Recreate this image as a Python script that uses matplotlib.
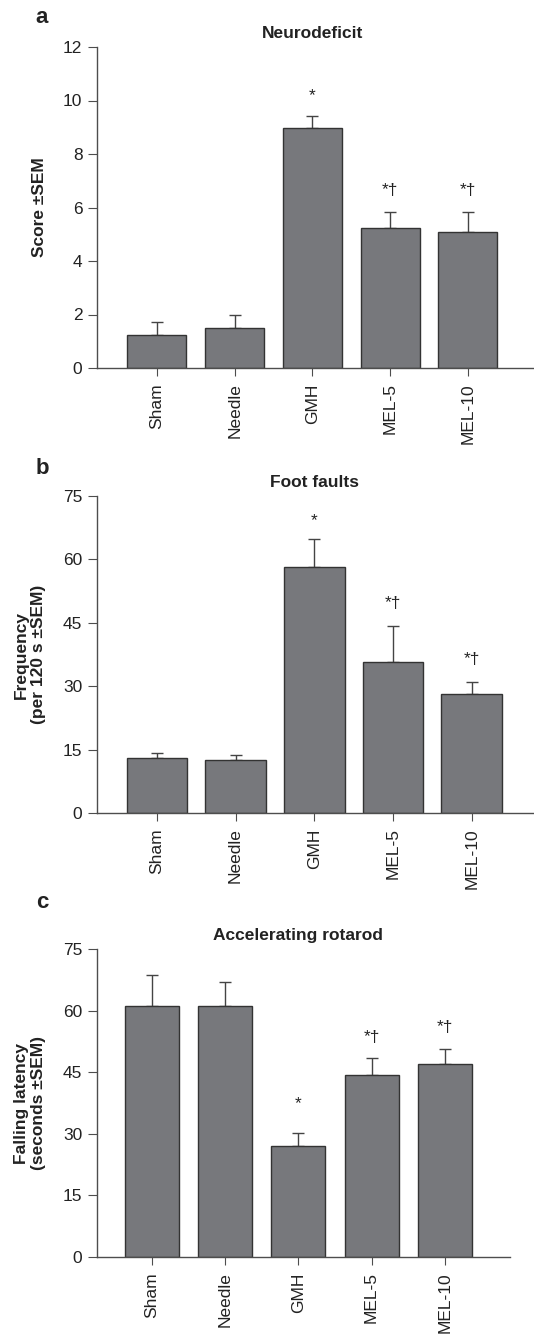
import matplotlib
matplotlib.use('Agg')
import matplotlib.pyplot as plt

plt.rcParams['font.family'] = ['Liberation Sans', 'DejaVu Sans']

#######################################################################
# Data
#######################################################################
groups = ['Sham', 'Needle', 'GMH', 'MEL-5', 'MEL-10']

neuro_mean = [1.23, 1.5, 8.97, 5.24, 5.08]
neuro_sem = [0.48, 0.49, 0.46, 0.60, 0.75]
neuro_marks = ['', '', '*', '*†', '*†']
neuro_mark_y = [0, 0, 10.0, 6.45, 6.45]

foot_mean = [12.9, 12.5, 58.1, 35.7, 28.1]
foot_sem = [1.3, 1.3, 6.7, 8.5, 3.0]
foot_marks = ['', '', '*', '*†', '*†']
foot_mark_y = [0, 0, 68.2, 48.5, 35.2]

rota_mean = [61.1, 61.1, 27.1, 44.3, 47.1]
rota_sem = [7.6, 5.9, 3.0, 4.1, 3.5]
rota_marks = ['', '', '*', '*†', '*†']
rota_mark_y = [0, 0, 36.3, 52.3, 54.8]

#######################################################################
# Style
#######################################################################
BAR_COLOR = '#77787c'
EDGE_COLOR = '#333333'
AXIS_COLOR = '#4d4d4d'
TEXT_COLOR = '#222222'
W, H = 534, 1334

fig = plt.figure(figsize=(W / 100, H / 100), dpi=100)


def px_axes(left, top, right, bottom):
    """ axes from pixel box """
    return fig.add_axes([left / W, 1 - bottom / H, (right - left) / W, (bottom - top) / H])


def draw_panel(ax, means, sems, marks, mark_y, ymax, yticks, xlim, width,
               title, ylabel, label_x, letter, letter_y):
    x = list(range(len(groups)))
    ax.bar(x, means, width=width, color=BAR_COLOR, edgecolor=EDGE_COLOR,
           linewidth=1.0, zorder=2)
    ax.errorbar(x, means, yerr=[[0] * len(sems), sems], fmt='none',
                ecolor='#444444', elinewidth=1.0, capsize=4, capthick=1.0, zorder=1)
    for xi, m, yy in zip(x, marks, mark_y):
        if m:
            ax.text(xi, yy, m, ha='center', va='baseline', fontsize=12.5, color=TEXT_COLOR)
    ax.set_ylim(0, ymax)
    ax.set_xlim(*xlim)
    ax.set_yticks(yticks)
    ax.set_xticks(x)
    ax.set_xticklabels(groups, rotation=90, fontsize=12.5, color=TEXT_COLOR)
    ax.tick_params(axis='y', labelsize=12.5, length=6.5, width=0.8, pad=4,
                   color=AXIS_COLOR, labelcolor=TEXT_COLOR)
    ax.tick_params(axis='x', length=5.5, width=0.8, pad=5.5, color=AXIS_COLOR)
    for s in ['top', 'right']:
        ax.spines[s].set_visible(False)
    for s in ['left', 'bottom']:
        ax.spines[s].set_color(AXIS_COLOR)
        ax.spines[s].set_linewidth(1.0)
    ax.spines['bottom'].set_zorder(3)
    # title centered over the bars
    ax.annotate(title, xy=(2, 1.0), xycoords=('data', 'axes fraction'),
                xytext=(0, 4), textcoords='offset points', ha='center', va='bottom',
                fontsize=12.5, fontweight='bold', color=TEXT_COLOR)
    # y label
    bb = ax.get_position()
    fig.text(label_x / W, (bb.y0 + bb.y1) / 2, ylabel, rotation=90, ha='center',
             va='center', fontsize=12.5, fontweight='bold', multialignment='center',
             color=TEXT_COLOR, linespacing=1.15)
    fig.text(42 / W, 1 - letter_y / H, letter, ha='center', va='baseline',
             fontsize=16, fontweight='bold', color=TEXT_COLOR)


ax_a = px_axes(97, 47, 534, 368)
draw_panel(ax_a, neuro_mean, neuro_sem, neuro_marks, neuro_mark_y, 12,
           [0, 2, 4, 6, 8, 10, 12], (-0.77, 4.85), 0.76,
           'Neurodeficit', 'Score ±SEM', 39, 'a', 23)

ax_b = px_axes(97, 496, 534, 813)
draw_panel(ax_b, foot_mean, foot_sem, foot_marks, foot_mark_y, 75,
           [0, 15, 30, 45, 60, 75], (-0.76, 4.79), 0.77,
           'Foot faults', 'Frequency\n(per 120 s ±SEM)', 30, 'b', 474)

ax_c = px_axes(97, 949, 510, 1257)
draw_panel(ax_c, rota_mean, rota_sem, rota_marks, rota_mark_y, 75,
           [0, 15, 30, 45, 60, 75], (-0.75, 4.89), 0.74,
           'Accelerating rotarod', 'Falling latency\n(seconds ±SEM)', 30, 'c', 908)

fig.savefig('out.png', dpi=100)
